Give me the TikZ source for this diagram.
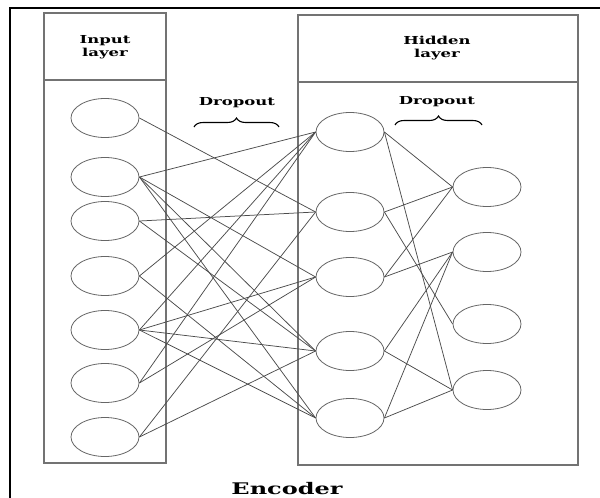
\documentclass[tikz,border=0pt]{standalone}
\usepackage{fontspec}
\newfontfamily\lblfont{DejaVu Serif}[FakeStretch=1.5]
\usetikzlibrary{shapes.geometric,decorations.pathreplacing}

\tikzset{
  unit/.style={ellipse, draw=black!60, line width=0.8pt, minimum width=68pt, minimum height=39pt, inner sep=0pt},
  layerbox/.style={draw=black!55, line width=1.3pt},
  wire/.style={draw=black!70, line width=0.75pt},
  caption/.style={font=\lblfont\bfseries\fontsize{11}{13}\selectfont, align=center, inner sep=0pt},
  dropbrace/.style={decorate, decoration={brace, amplitude=9pt}, line width=1.1pt},
}

\begin{document}
\begin{tikzpicture}[x=1pt,y=-1pt]
  \useasboundingbox (0,0) rectangle (600,498);
  % outer frame
  \draw [line width=2pt] (10,498) -- (10,8) -- (600,8);
  % layer boxes
  \draw [layerbox] (44,13) rectangle (166,463);
  \draw [layerbox] (44,80) -- (166,80);
  \draw [layerbox] (298,15) rectangle (578,465);
  \draw [layerbox] (298,82) -- (578,82);
  \node [caption] (inlabel) at (105,47) {Input\\layer};
  \node [caption] (hidlabel) at (437,48) {Hidden\\layer};
  % dropout braces
  \coordinate (d1a) at (194,127);
  \coordinate (d1b) at (279,127);
  \coordinate (d2a) at (395,125);
  \coordinate (d2b) at (482,125);
  \draw [dropbrace] (d1a) -- (d1b);
  \draw [dropbrace] (d2a) -- (d2b);
  \node [caption] (drop1) at (237,103) {Dropout};
  \node [caption] (drop2) at (437,102) {Dropout};
  % units
  \foreach \y [count=\i] in {118,177,221,276,330,383,437}
    \node [unit] (in\i) at (105,\y) {};
  \foreach \y [count=\i] in {132,212,277,351,418}
    \node [unit] (hid\i) at (350,\y) {};
  \foreach \y [count=\i] in {187,252,324,390}
    \node [unit] (out\i) at (487,\y) {};
  % connections
  \foreach \a/\b in {1/2, 2/1, 2/3, 2/4, 2/5, 3/2, 3/4, 4/1, 4/5,
                     5/1, 5/3, 5/4, 5/5, 6/1, 6/3, 7/2, 7/4}
    \draw [wire] (in\a.east) -- (hid\b.west);
  \foreach \a/\b in {1/1, 1/4, 2/1, 2/3, 3/1, 3/2, 4/2, 4/4, 5/2, 5/4}
    \draw [wire] (hid\a.east) -- (out\b.west);
  \node [font=\lblfont\bfseries\fontsize{16}{18}\selectfont, inner sep=0pt] (enc) at (287,489) {Encoder};
\end{tikzpicture}
\end{document}
